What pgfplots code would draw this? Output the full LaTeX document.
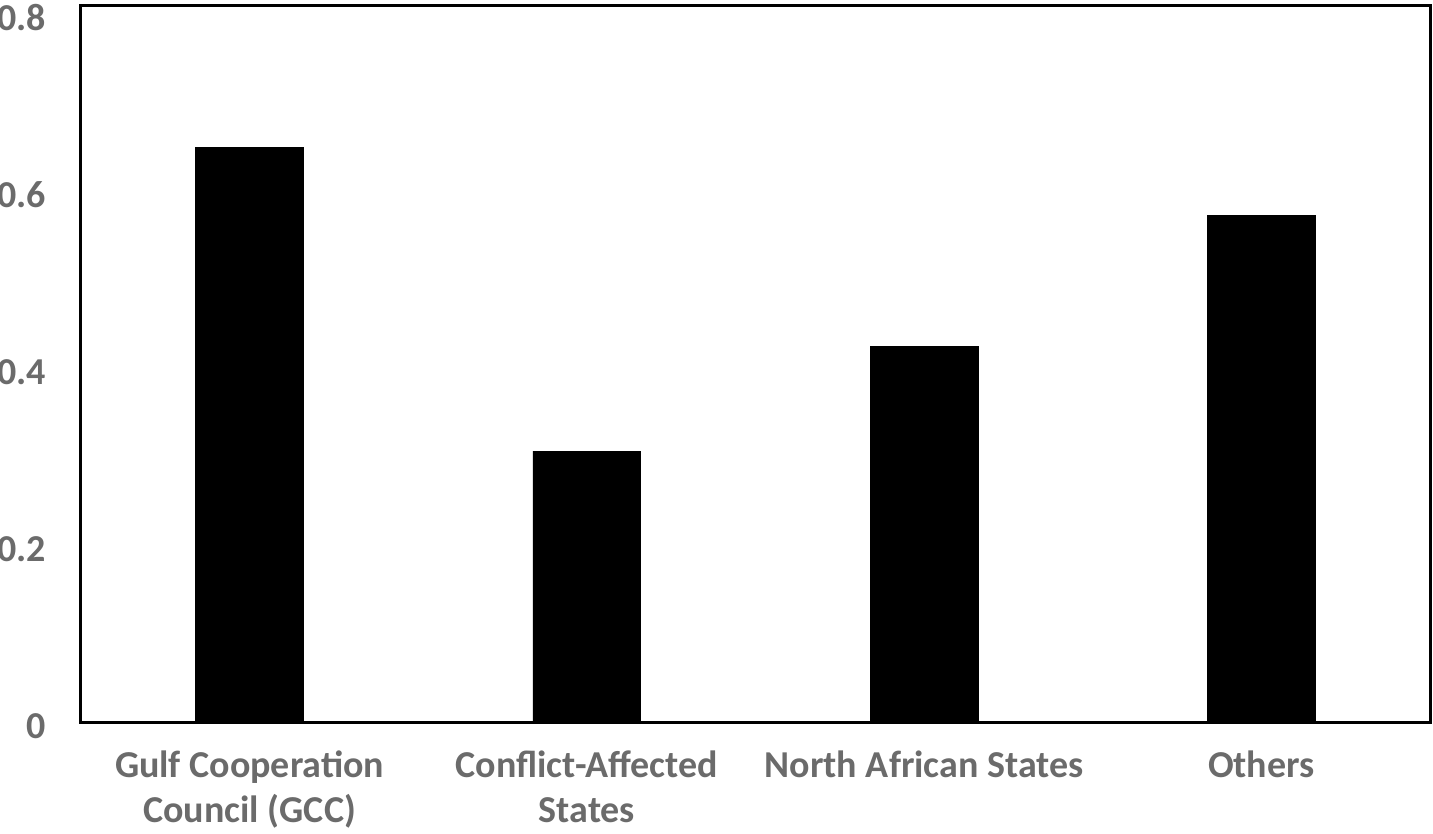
\documentclass[border=0pt]{standalone}
\usepackage{pgfplots}
\pgfplotsset{compat=1.18}
\usepackage{fontspec}
\setmainfont{Carlito}
\definecolor{lbl}{HTML}{6B6B6B}
\begin{document}
\begin{tikzpicture}
\useasboundingbox (-40.5pt,-56pt) rectangle (676pt,361pt);
\begin{axis}[
  at={(0pt,0pt)}, anchor=south west,
  scale only axis,
  width=674.5pt, height=358.5pt,
  xmin=-0.5, xmax=3.5,
  ymin=0, ymax=0.81,
  ytick={0,0.2,0.4,0.6,0.8},
  yticklabels={0,0.2,0.4,0.6,0.8},
  xtick={0,1,2,3},
  xticklabels={{Gulf Cooperation\\Council (GCC)},{Conflict-Affected\\States},{North African States},{Others}},
  xticklabel style={align=center, font=\fontsize{19}{22.5}\selectfont\bfseries, text=lbl, anchor=north, yshift=-11pt},
  yticklabel style={font=\fontsize{19}{22}\selectfont\bfseries, text=lbl, anchor=east, xshift=-14pt, yshift=-2pt},
  major tick length=0pt,
  axis line style={line width=1.5pt, black},
  ybar, bar width=0.32,
  clip=false,
]
\addplot[fill=black, draw=black] coordinates {(0,0.649) (1,0.306) (2,0.424) (3,0.572)};
\end{axis}
\end{tikzpicture}
\end{document}
